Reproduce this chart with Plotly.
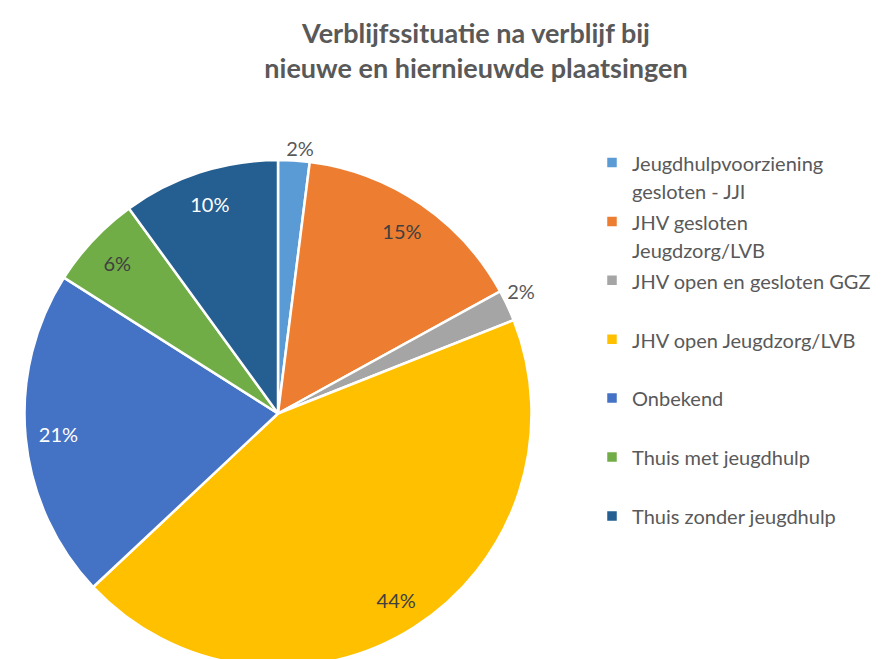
import plotly.graph_objects as go

categories = [
    "Jeugdhulpvoorziening gesloten - JJI",
    "JHV gesloten Jeugdzorg/LVB",
    "JHV open en gesloten GGZ",
    "JHV open Jeugdzorg/LVB",
    "Onbekend",
    "Thuis met jeugdhulp",
    "Thuis zonder jeugdhulp",
]
legend_lines = [
    ["Jeugdhulpvoorziening", "gesloten - JJI"],
    ["JHV gesloten", "Jeugdzorg/LVB"],
    ["JHV open en gesloten GGZ", " "],
    ["JHV open Jeugdzorg/LVB", " "],
    ["Onbekend", " "],
    ["Thuis met jeugdhulp", " "],
    ["Thuis zonder jeugdhulp", " "],
]
values = [2, 15, 2, 44, 21, 6, 10]
colors = ["#5B9BD5", "#ED7D31", "#A5A5A5", "#FFC000", "#4472C4", "#70AD47", "#255E91"]
label_colors = ["#595959", "#404040", "#595959", "#404040", "#FFFFFF", "#404040", "#FFFFFF"]
outside = [v < 5 for v in values]

legend_labels = [
    "<br>".join('<span style="font-size:20px">%s</span>' % ln for ln in lines)
    for lines in legend_lines
]

W, H = 883, 659
cx, cy, r = 270, 406, 254
dom_x = [(cx - r) / W, (cx + r) / W]
dom_y = [max(0, 1 - (cy + r) / H), 1 - (cy - r) / H]

FONT = "Lato"
common = dict(values=values, sort=False, direction="clockwise",
              domain=dict(x=dom_x, y=dom_y), texttemplate="%{value}%")

fig = go.Figure()

# Slices + legend
fig.add_trace(go.Pie(
    labels=legend_labels,
    rotation=0,
    marker=dict(colors=colors, line=dict(color="white", width=2.5)),
    textposition="none",
    hovertext=categories,
    hoverinfo="text+percent",
    showlegend=True,
    **common,
))

# Transparent ring carrying the inside labels near the rim
fig.add_trace(go.Pie(
    labels=categories,
    rotation=0,
    hole=0.74,
    marker=dict(colors=["rgba(0,0,0,0)"] * len(values), line=dict(width=0)),
    textposition=["none" if o else "inside" for o in outside],
    insidetextorientation="horizontal",
    insidetextfont=dict(family=FONT, size=20, color=label_colors),
    hoverinfo="skip",
    showlegend=False,
    **common,
))

# Transparent layer carrying the outside labels of the small slices
fig.add_trace(go.Pie(
    labels=categories,
    rotation=-3.1,
    marker=dict(colors=["rgba(0,0,0,0)"] * len(values), line=dict(width=0)),
    textposition=["outside" if o else "none" for o in outside],
    outsidetextfont=dict(family=FONT, size=20, color="#595959"),
    hoverinfo="skip",
    showlegend=False,
    **common,
))

fig.update_layout(
    width=W, height=H,
    margin=dict(l=0, r=0, t=0, b=0, autoexpand=False),
    paper_bgcolor="white",
    plot_bgcolor="white",
    font=dict(family=FONT, color="#595959"),
    title=dict(
        text="<b>Verblijfssituatie na verblijf bij<br>nieuwe en hiernieuwde plaatsingen</b>",
        x=468 / W, xanchor="center",
        y=1 - 35 / H, yanchor="middle",
        font=dict(family=FONT, size=27, color="#595959"),
    ),
    legend=dict(
        x=584 / W, xanchor="left",
        y=1 - 134 / H, yanchor="top",
        font=dict(family=FONT, size=21.5, color="#595959"),
        valign="top",
        itemclick=False,
        bgcolor="rgba(0,0,0,0)",
    ),
)

fig.write_html("out.html")
